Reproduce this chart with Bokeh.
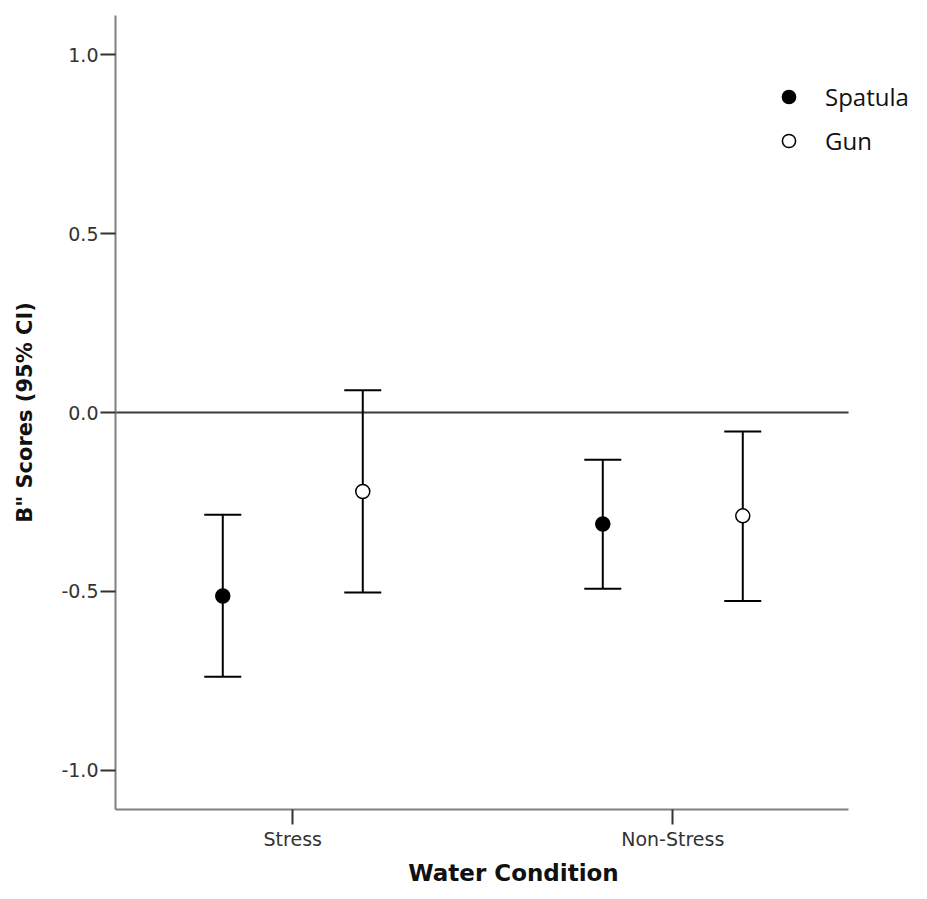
from bokeh.plotting import figure
from bokeh.models import (ColumnDataSource, Whisker, TeeHead, FixedTicker,
                          PrintfTickFormatter, Legend, LegendItem)
from bokeh.embed import file_html
from bokeh.resources import INLINE

categories = ["Stress", "Non-Stress"]
series = ["Spatula", "Gun"]
spatula_mean = [-0.513, -0.312]
spatula_lower = [-0.739, -0.493]
spatula_upper = [-0.286, -0.132]
gun_mean = [-0.221, -0.289]
gun_lower = [-0.503, -0.527]
gun_upper = [0.062, -0.053]
y_ticks = [-1.0, -0.5, 0.0, 0.5, 1.0]

dodge = 0.1842
cat_pos = list(range(len(categories)))
x_start, x_end = -0.4665, 1.6282   # frame is widened so the legend fits
x_axis_end = 1.4625                 # where the drawn x axis (and zero line) stop
y_start, y_end = -1.11, 1.11

p = figure(frame_width=796, frame_height=794, output_backend="svg",
           toolbar_location=None, x_range=(x_start, x_end), y_range=(y_start, y_end),
           min_border_left=115, min_border_top=15, min_border_right=0, min_border_bottom=74)
p.outline_line_color = None
p.xgrid.visible = False
p.ygrid.visible = False
p.background_fill_color = "white"
p.border_fill_color = "white"

src_s = ColumnDataSource(dict(x=[c - dodge for c in cat_pos], y=spatula_mean,
                              lo=spatula_lower, hi=spatula_upper))
src_g = ColumnDataSource(dict(x=[c + dodge for c in cat_pos], y=gun_mean,
                              lo=gun_lower, hi=gun_upper))

# zero reference line
p.segment(x0=[x_start], y0=[0], x1=[x_axis_end], y1=[0], line_color="#3a3a3a", line_width=2)

for src in (src_s, src_g):
    w = Whisker(base="x", lower="lo", upper="hi", source=src, dimension="height",
                line_color="black", line_width=2, level="glyph",
                upper_head=TeeHead(size=37, line_color="black", line_width=2),
                lower_head=TeeHead(size=37, line_color="black", line_width=2))
    p.add_layout(w)

r_s = p.scatter("x", "y", source=src_s, size=14, marker="circle",
                fill_color="black", line_color="black", line_width=1.5, level="overlay")
r_g = p.scatter("x", "y", source=src_g, size=14, marker="circle",
                fill_color="white", line_color="black", line_width=1.5, level="overlay")

legend = Legend(items=[LegendItem(label=series[0], renderers=[r_s]),
                       LegendItem(label=series[1], renderers=[r_g])],
                location=(657, 652), padding=0, margin=0, spacing=11,
                glyph_width=33, glyph_height=33, label_standoff=20,
                label_text_font="Open Sans", label_text_font_size="24px",
                label_text_color="#111111", border_line_color=None,
                background_fill_alpha=0)
p.add_layout(legend)

# axes
for ax in (p.xaxis[0], p.yaxis[0]):
    ax.axis_line_color = "#808080"
    ax.axis_line_width = 2
    ax.major_tick_line_color = "#333333"
    ax.major_tick_line_width = 2
    ax.minor_tick_line_color = None
    ax.major_tick_in = 0
    ax.major_tick_out = 15
    ax.major_label_text_font = "DejaVu Sans"
    ax.major_label_text_font_size = "19px"
    ax.major_label_text_color = "#333333"
    ax.axis_label_text_font = "DejaVu Sans"
    ax.axis_label_text_font_style = "bold"
    ax.axis_label_text_color = "#111111"

p.xaxis.bounds = (x_start, x_axis_end)
p.xaxis.ticker = FixedTicker(ticks=cat_pos)
p.xaxis.major_label_overrides = {i: c for i, c in zip(cat_pos, categories)}
p.xaxis.major_label_standoff = 3
p.xaxis.axis_label = "Water Condition"
p.xaxis.axis_label_text_font_size = "23px"
p.xaxis.axis_label_standoff = 7

p.yaxis.ticker = FixedTicker(ticks=y_ticks)
p.yaxis.formatter = PrintfTickFormatter(format="%.1f")
p.yaxis.major_label_standoff = 2
p.yaxis.axis_label = 'B" Scores (95% CI)'
p.yaxis.axis_label_text_font_size = "21px"
p.yaxis.axis_label_standoff = 21

open("out.html", "w").write(file_html(p, INLINE))
